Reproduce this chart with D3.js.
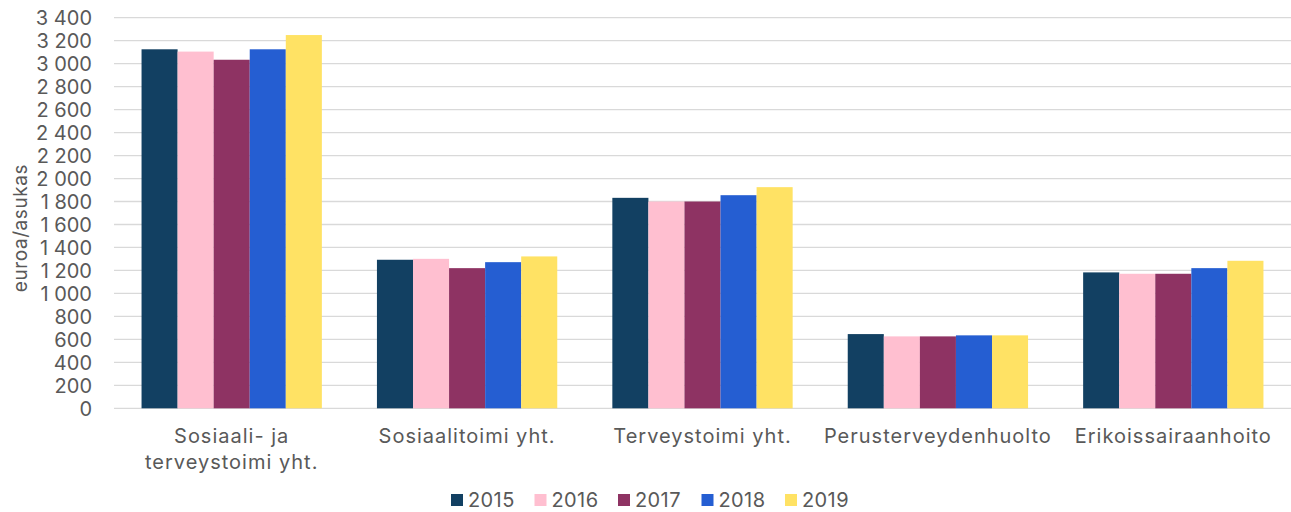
<!DOCTYPE html>
<html><head><meta charset="utf-8">
<script src="https://cdn.jsdelivr.net/npm/d3@7"></script>
<style>body{margin:0;background:#fff}svg{display:block}text{font-family:Inter,"Open Sans",sans-serif;fill:#595959}</style>
</head><body><svg id="c" width="1291" height="512"></svg>
<script>
const categories = [["Sosiaali- ja","terveystoimi yht."],["Sosiaalitoimi yht."],["Terveystoimi yht."],["Perusterveydenhuolto"],["Erikoissairaanhoito"]];
const years = ["2015","2016","2017","2018","2019"];
const colors = ["#124062","#FFBFD0","#8E3363","#255ED2","#FFE264"];
const v2015 = [3125,1293,1832,646,1183];
const v2016 = [3105,1301,1800,626,1171];
const v2017 = [3034,1220,1800,626,1171];
const v2018 = [3125,1272,1855,635,1220];
const v2019 = [3249,1322,1925,635,1284];
const series = [v2015,v2016,v2017,v2018,v2019];
const yTicks = d3.range(0,3401,200);

const svg = d3.select("#c");
const L=114, R=1291, T=17.7, B=408.3;
const x0 = d3.scaleBand().domain(d3.range(categories.length)).range([L,R]).paddingInner(0.234).paddingOuter(0.117);
const x1 = d3.scaleBand().domain(d3.range(years.length)).range([0,x0.bandwidth()]);
const y = d3.scaleLinear().domain([0,3400]).range([B,T]);
const fmt = v => d3.format(",")(v).replace(/,/g," ");

svg.append("g").selectAll("line").data(yTicks).join("line")
  .attr("x1",L).attr("x2",R).attr("y1",d=>y(d)).attr("y2",d=>y(d))
  .attr("stroke","#d9d9d9").attr("stroke-width",1.3);
svg.append("g").selectAll("text").data(yTicks).join("text")
  .attr("x",92).attr("y",d=>y(d)).attr("dy","0.36em").attr("text-anchor","end")
  .attr("font-size",20).text(fmt);
svg.append("text").attr("transform","translate(20,228) rotate(-90)").attr("text-anchor","middle")
  .attr("dy","0.36em").attr("font-size",19).attr("letter-spacing",0.6).text("euroa/asukas");

const g = svg.append("g");
categories.forEach((c,i)=>{
  series.forEach((s,j)=>{
    g.append("rect").attr("x",x0(i)+x1(j)).attr("width",x1.bandwidth())
      .attr("y",y(s[i])).attr("height",y(0)-y(s[i])).attr("fill",colors[j]);
  });
  const t = svg.append("text").attr("x",x0(i)+x0.bandwidth()/2).attr("y",443).attr("text-anchor","middle")
    .attr("font-size",20).attr("letter-spacing",1);
  c.forEach((line,k)=>t.append("tspan").attr("x",x0(i)+x0.bandwidth()/2).attr("dy",k?26:0).text(line));
});

const lg = svg.append("g");
years.forEach((yr,j)=>{
  const lx = 451 + j*83.5;
  lg.append("rect").attr("x",lx).attr("y",494).attr("width",12).attr("height",12).attr("fill",colors[j]);
  lg.append("text").attr("x",lx+17).attr("y",500).attr("dy","0.36em").attr("font-size",20).attr("letter-spacing",0.4).text(yr);
});
</script></body></html>
